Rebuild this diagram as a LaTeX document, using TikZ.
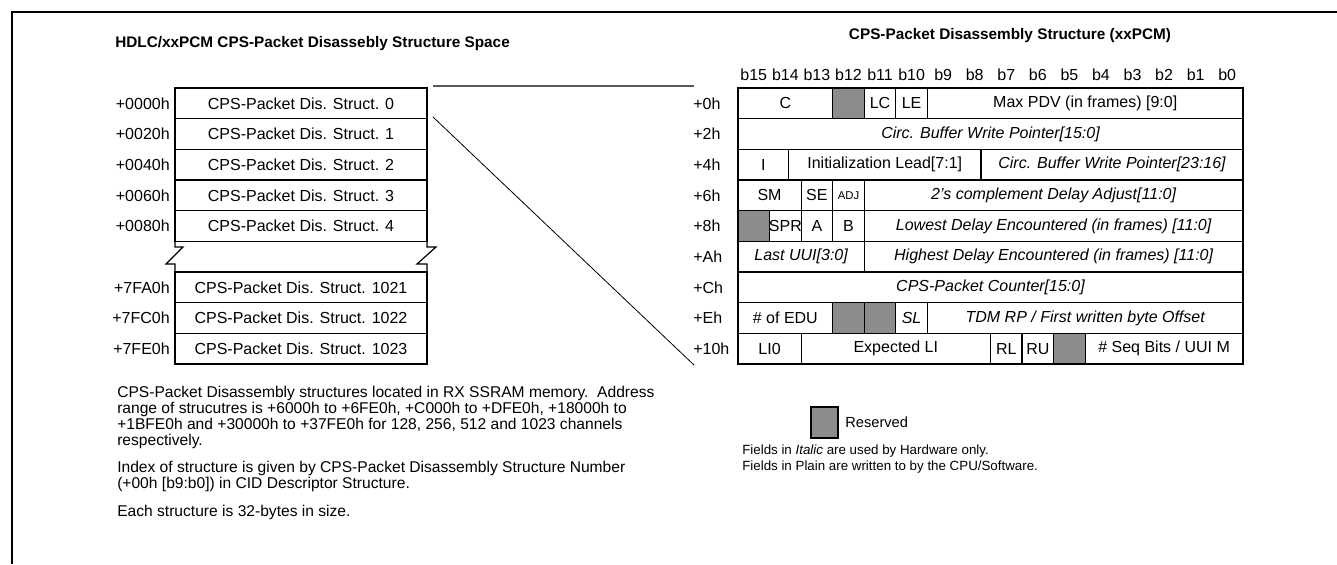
\documentclass[tikz,border=0pt]{standalone}
\usepackage{fontspec}
\setmainfont{Liberation Sans}
\usetikzlibrary{calc}
\definecolor{resgray}{RGB}{140,140,140}
\def\colx#1{738+31.5625*#1}
\def\rowy#1{88+30.667*#1}
\def\field[#1](#2)(#3:#4)#5#6{\draw[cell,#1] ({\colx{#3}},{\rowy{#2}}) rectangle ({\colx{#4}},{\rowy{#2}+30.667});
	\node[celltxt] (#5) at ({(\colx{#3}+\colx{#4})/2},{\rowy{#2}+15.333}) {#6};}
\def\slot(#1)#2#3#4{\draw[cell] (175,{\rowy{#1}}) rectangle (427,{\rowy{#1}+30.667});
	\node[celltxt] (#2) at (301,{\rowy{#1}+15.333}) {#4};
	\node[celltxt,anchor=east] (#2a) at (170,{\rowy{#1}+15.333}) {#3};}

\begin{document}
\begin{tikzpicture}[x=0.75pt,y=-0.75pt,
		cell/.style={line width=0.9pt},
		celltxt/.style={font=\fontsize{12}{14}\selectfont,inner sep=0pt},
		ttl/.style={font=\bfseries\fontsize{11.5}{13}\selectfont,inner sep=0pt},
		para/.style={font=\fontsize{11.7}{12}\selectfont,inner sep=0pt,align=left,anchor=north west},
		legtxt/.style={font=\fontsize{10}{12}\selectfont,inner sep=0pt,anchor=west}]
		%%%%% START %%%%%
		
		\useasboundingbox (0,0) rectangle (1337,564);
		\draw[line width=1.6pt] (12,564) -- (12,12) -- (1337,12);
		
		\node[ttl,anchor=west] (ltitle) at (115,44) {HDLC/xxPCM CPS-Packet Disassebly Structure Space};
		\node[ttl] (rtitle) at (1010,36) {CPS-Packet Disassembly Structure (xxPCM)};
		
		\slot(0){s0}{+0000h}{CPS-Packet Dis. Struct. 0}
		\slot(1){s1}{+0020h}{CPS-Packet Dis. Struct. 1}
		\slot(2){s2}{+0040h}{CPS-Packet Dis. Struct. 2}
		\slot(3){s3}{+0060h}{CPS-Packet Dis. Struct. 3}
		\slot(4){s4}{+0080h}{CPS-Packet Dis. Struct. 4}
		\slot(6){s1021}{+7FA0h}{CPS-Packet Dis. Struct. 1021}
		\slot(7){s1022}{+7FC0h}{CPS-Packet Dis. Struct. 1022}
		\slot(8){s1023}{+7FE0h}{CPS-Packet Dis. Struct. 1023}
		
		% break marks
		\draw[cell] (175,241) -- (175,247) -- (183,247) -- (166,264) -- (175,264) -- (175,272);
		\draw[cell] (427,241) -- (427,247) -- (436,247) -- (417,264) -- (427,264) -- (427,272);
		
		\coordinate (zoomtop) at (433,86);
		\coordinate (zoombot) at (433,117);
		\coordinate (tabtop) at (694,86);
		\coordinate (tabbot) at (694,365);
		\draw[line width=1pt, color=black!65] (zoomtop) -- (tabtop);
		\draw[line width=0.6pt] (zoombot) -- (tabbot);
		
		\node[celltxt] (b15) at ({\colx{0}+15.78},75) {b15};
		\node[celltxt] (b14) at ({\colx{1}+15.78},75) {b14};
		\node[celltxt] (b13) at ({\colx{2}+15.78},75) {b13};
		\node[celltxt] (b12) at ({\colx{3}+15.78},75) {b12};
		\node[celltxt] (b11) at ({\colx{4}+15.78},75) {b11};
		\node[celltxt] (b10) at ({\colx{5}+15.78},75) {b10};
		\node[celltxt] (b9) at ({\colx{6}+15.78},75) {b9};
		\node[celltxt] (b8) at ({\colx{7}+15.78},75) {b8};
		\node[celltxt] (b7) at ({\colx{8}+15.78},75) {b7};
		\node[celltxt] (b6) at ({\colx{9}+15.78},75) {b6};
		\node[celltxt] (b5) at ({\colx{10}+15.78},75) {b5};
		\node[celltxt] (b4) at ({\colx{11}+15.78},75) {b4};
		\node[celltxt] (b3) at ({\colx{12}+15.78},75) {b3};
		\node[celltxt] (b2) at ({\colx{13}+15.78},75) {b2};
		\node[celltxt] (b1) at ({\colx{14}+15.78},75) {b1};
		\node[celltxt] (b0) at ({\colx{15}+15.78},75) {b0};
		
		\node[celltxt,anchor=west] (o0) at (693,{\rowy{0}+15.333}) {+0h};
		\node[celltxt,anchor=west] (o2) at (693,{\rowy{1}+15.333}) {+2h};
		\node[celltxt,anchor=west] (o4) at (693,{\rowy{2}+15.333}) {+4h};
		\node[celltxt,anchor=west] (o6) at (693,{\rowy{3}+15.333}) {+6h};
		\node[celltxt,anchor=west] (o8) at (693,{\rowy{4}+15.333}) {+8h};
		\node[celltxt,anchor=west] (oA) at (693,{\rowy{5}+15.333}) {+Ah};
		\node[celltxt,anchor=west] (oC) at (693,{\rowy{6}+15.333}) {+Ch};
		\node[celltxt,anchor=west] (oE) at (693,{\rowy{7}+15.333}) {+Eh};
		\node[celltxt,anchor=west] (o10) at (693,{\rowy{8}+15.333}) {+10h};
		
		% +0h
		\field[](0)(0:3){fc}{C}
		\field[fill=resgray](0)(3:4){r0}{}
		\field[](0)(4:5){flc}{LC}
		\field[](0)(5:6){fle}{LE}
		\field[](0)(6:16){fpdv}{Max PDV (in frames) [9:0]}
		% +2h
		\field[](1)(0:16){fwp}{\itshape Circ. Buffer Write Pointer[15:0]}
		% +4h
		\field[](2)(0:1.6){fi}{I}
		\field[](2)(1.6:7.7){flead}{\raisebox{-3pt}{Initialization Lead[7:1]}}
		\field[](2)(7.7:16){fwph}{\itshape Circ. Buffer Write Pointer[23:16]}
		% +6h
		\field[](3)(0:2){fsm}{SM}
		\field[](3)(2:3){fse}{SE}
		\field[](3)(3:4){fadj}{\fontsize{8.5}{9}\selectfont ADJ}
		\field[](3)(4:16){fdly}{\itshape 2's complement Delay Adjust[11:0]}
		% +8h
		\field[fill=resgray](4)(0:1){r1}{}
		\field[](4)(1:2){fspr}{SPR}
		\field[](4)(2:3){fa}{A}
		\field[](4)(3:4){fb}{B}
		\field[](4)(4:16){flow}{\itshape Lowest Delay Encountered (in frames) [11:0]}
		% +Ah
		\field[](5)(0:4){fuui}{\itshape Last UUI[3:0]}
		\field[](5)(4:16){fhigh}{\itshape Highest Delay Encountered (in frames) [11:0]}
		% +Ch
		\field[](6)(0:16){fcnt}{\itshape CPS-Packet Counter[15:0]}
		% +Eh
		\field[](7)(0:3){fedu}{\# of EDU}
		\field[fill=resgray](7)(3:4){r2}{}
		\field[fill=resgray](7)(4:5){r3}{}
		\field[](7)(5:6){fsl}{\itshape SL}
		\field[](7)(6:16){ftdm}{\itshape TDM RP / First written byte Offset}
		% +10h
		\field[](8)(0:2){fli}{LI0}
		\field[](8)(2:8){fexp}{Expected LI}
		\field[](8)(8:9){frl}{RL}
		\field[](8)(9:10){fru}{RU}
		\field[fill=resgray](8)(10:11){r4}{}
		\field[](8)(11:16){fseq}{\# Seq Bits / UUI M}
		
		\node[para] (note1) at (117,386) {CPS-Packet Disassembly structures located in RX SSRAM memory.\ \ Address\\range of strucutres is +6000h to +6FE0h, +C000h to +DFE0h, +18000h to\\+1BFE0h and +30000h to +37FE0h for 128, 256, 512 and 1023 channels\\respectively.};
		\node[para] (note2) at (117,461) {Index of structure is given by CPS-Packet Disassembly Structure Number\\(+00h [b9:b0]) in CID Descriptor Structure.};
		\node[para] (note3) at (117,505) {Each structure is 32-bytes in size.};
		
		\draw[cell,fill=resgray] (811,407) rectangle (838,438);
		\node[legtxt,font=\fontsize{11}{12}\selectfont] (resv) at (845,422) {Reserved};
		\node[legtxt] (leg1) at (742,451) {Fields in \textit{Italic} are used by Hardware only.};
		\node[legtxt] (leg2) at (742,467) {Fields in Plain are written to by the CPU/Software.};
		
		%%%%% END %%%%%
	\end{tikzpicture}
\end{document}
